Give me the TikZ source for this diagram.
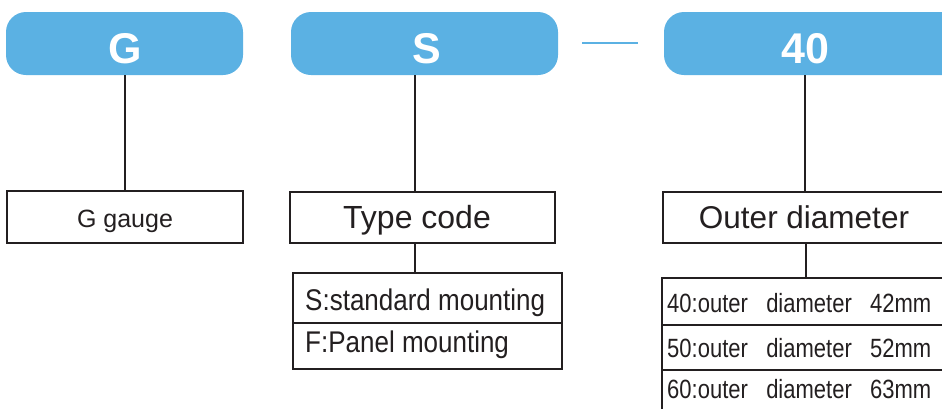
\documentclass[tikz,border=0pt]{standalone}
\usepackage{fontspec}
\setmainfont{Liberation Sans}
\newfontfamily\widesp[WordSpace=3]{Liberation Sans}
\definecolor{hdblue}{HTML}{5BB1E3}
\definecolor{ink}{HTML}{231F20}
\begin{document}
\begin{tikzpicture}[x=1pt,y=-1pt,
  hd/.style={fill=hdblue,draw=none,rounded corners=20pt},
  hdtext/.style={text=white,font=\fontsize{43}{43}\selectfont\bfseries,anchor=base,inner sep=0pt},
  bx/.style={draw=ink,line width=2pt,fill=white},
  conn/.style={draw=ink,line width=2pt},
  lbl/.style={text=ink,font=\fontsize{32}{32}\selectfont,anchor=base,inner sep=0pt},
  sub/.style={text=ink,font=\fontsize{26}{26}\selectfont,anchor=base west,inner sep=0pt},
  subn/.style={text=ink,font=\widesp\fontsize{22}{22}\selectfont,anchor=base west,inner sep=0pt}]
\clip (0,0) rectangle (942,408);
% header boxes
\path[hd] (6,12) rectangle (243,75);
\path[hd] (291,12) rectangle (558,75);
\path[hd] (664,12) rectangle (965,75);
\node[hdtext] (hG) at (125,63) {G};
\node[hdtext] (hS) at (427,63) {S};
\node[hdtext] (h40) at (805,63) {40};
\coordinate (dA) at (582,43);
\coordinate (dB) at (638,43);
\draw[hdblue,line width=2.5pt] (dA) -- (dB);
% top connector anchors
\coordinate (tG) at (125,75);
\coordinate (tS) at (415,75);
\coordinate (t40) at (805,75);
% label boxes
\draw[bx] (7,191) rectangle (243,243);
\node[lbl,font=\fontsize{25}{25}\selectfont] (lG) at (125,227) {G gauge};
\coordinate (bG) at (125,191);
\draw[bx] (290,192) rectangle (555,243);
\node[lbl] (lS) at (417,228) {Type code};
\coordinate (bS) at (415,192);
\coordinate (bS2) at (415,243);
\draw[bx] (663,192) rectangle (960,243);
\node[lbl,font=\fontsize{31.5}{31.5}\selectfont] (l40) at (804,228) {Outer diameter};
\coordinate (b40) at (805,192);
\coordinate (b402) at (806,243);
\draw[conn] (tG) -- (bG);
\draw[conn] (tS) -- (bS);
\draw[conn] (t40) -- (b40);
% sub boxes
\draw[bx] (293,273) rectangle (562,369);
\draw[conn] (293,323) -- (562,323);
\coordinate (sS) at (415,273);
\draw[conn] (bS2) -- (sS);
\node[sub] (s1) at (305,310) {\scalebox{1}[1.15]{S:standard mounting}};
\node[sub] (s2) at (305,352) {\scalebox{1}[1.15]{F:Panel mounting}};
\draw[bx] (662,278) rectangle (960,430);
\draw[conn] (662,325) -- (960,325);
\draw[conn] (662,370) -- (960,370);
\coordinate (s40) at (806,278);
\draw[conn] (b402) -- (s40);
\node[subn] (o1) at (667,312) {\scalebox{1}[1.2]{40:outer diameter 42mm}};
\node[subn] (o2) at (667,357) {\scalebox{1}[1.2]{50:outer diameter 52mm}};
\node[subn] (o3) at (667,398) {\scalebox{1}[1.2]{60:outer diameter 63mm}};
\end{tikzpicture}
\end{document}
